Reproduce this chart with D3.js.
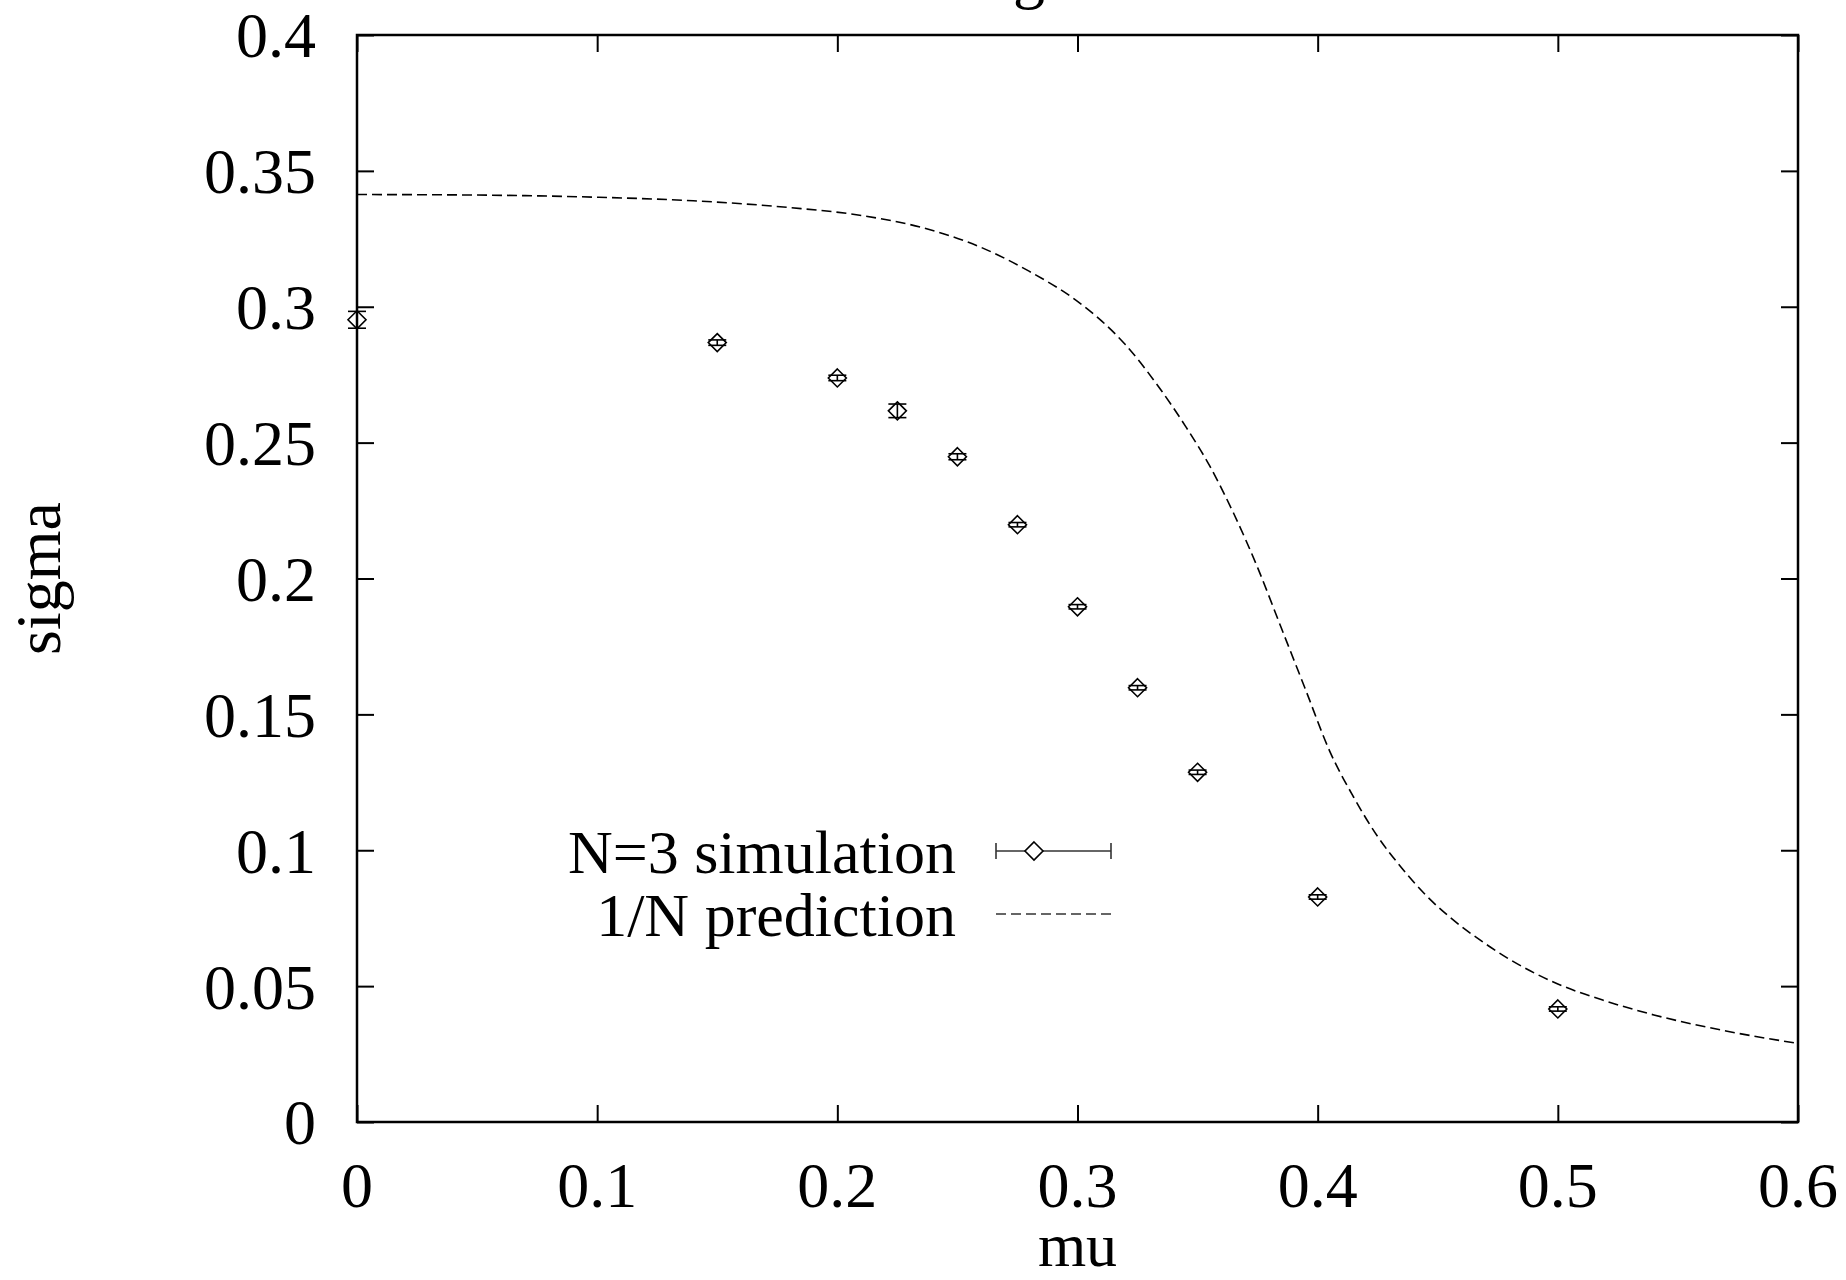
<!DOCTYPE html>
<html>
<head>
<meta charset="utf-8">
<script src="https://cdn.jsdelivr.net/npm/d3@7"></script>
<style>
  html, body { margin: 0; padding: 0; background: #fff; }
  svg { display: block; }
  text { font-family: "Liberation Serif", "Times New Roman", serif; fill: #000; }
</style>
</head>
<body>
<svg id="chart" width="1846" height="1280"></svg>
<script>
// ---- data ----
const muSim    = [0, 0.15, 0.2, 0.225, 0.25, 0.275, 0.3, 0.325, 0.35, 0.4, 0.5];
const sigmaSim = [0.2952, 0.2868, 0.2738, 0.2617, 0.2448, 0.2198, 0.1896, 0.1598, 0.1287, 0.0828, 0.0416];
const errSim   = [0.0031, 0.0010, 0.0010, 0.0025, 0.0011, 0.0008, 0.0008, 0.0008, 0.0008, 0.0008, 0.0008];

const muCurve    = [0, 0.05, 0.1, 0.14, 0.18, 0.21, 0.235, 0.26, 0.28, 0.3, 0.31, 0.32, 0.333, 0.345, 0.355, 0.365, 0.375, 0.385, 0.395, 0.405, 0.415, 0.425, 0.435, 0.445, 0.455, 0.47, 0.48, 0.5, 0.52, 0.54, 0.57, 0.6];
const sigmaCurve = [0.3413, 0.3411, 0.3403, 0.3390, 0.3365, 0.3336, 0.3292, 0.3218, 0.3130, 0.3020, 0.2948, 0.2860, 0.2715, 0.2560, 0.2415, 0.2240, 0.2040, 0.1815, 0.1590, 0.1365, 0.1195, 0.1050, 0.0935, 0.0835, 0.0754, 0.0655, 0.0598, 0.0508, 0.0445, 0.0394, 0.0335, 0.0289];

const xTicks = [0, 0.1, 0.2, 0.3, 0.4, 0.5, 0.6];
const yTicks = [0, 0.05, 0.1, 0.15, 0.2, 0.25, 0.3, 0.35, 0.4];
const xTickLabels = ["0", "0.1", "0.2", "0.3", "0.4", "0.5", "0.6"];
const yTickLabels = ["0", "0.05", "0.1", "0.15", "0.2", "0.25", "0.3", "0.35", "0.4"];
const legendLabels = ["N=3 simulation", "1/N prediction"];
const titleVisible = "g";
const xLabel = "mu";
const yLabel = "sigma";

// ---- layout ----
const L = 357, R = 1798, T = 35, B = 1122;
const FS = 64, FSL = 62;
const svg = d3.select("#chart");

const x = d3.scaleLinear().domain([0, 0.6]).range([L, R]);
const y = d3.scaleLinear().domain([0, 0.4]).range([B, T]);

// title (cut off at top)
svg.append("text").attr("x", 1029).attr("y", -4).attr("text-anchor", "middle")
  .attr("font-size", FS).text(titleVisible);

// ticks (inward, on all four sides) via axes
const tickLen = 17;
const axB = svg.append("g").attr("transform", `translate(0,${B})`)
  .call(d3.axisTop(x).tickValues(xTicks).tickSize(tickLen).tickFormat(""));
const axT = svg.append("g").attr("transform", `translate(0,${T})`)
  .call(d3.axisBottom(x).tickValues(xTicks).tickSize(tickLen).tickFormat(""));
const axL = svg.append("g").attr("transform", `translate(${L},0)`)
  .call(d3.axisRight(y).tickValues(yTicks).tickSize(tickLen).tickFormat(""));
const axR = svg.append("g").attr("transform", `translate(${R},0)`)
  .call(d3.axisLeft(y).tickValues(yTicks).tickSize(tickLen).tickFormat(""));
[axB, axT, axL, axR].forEach(g => {
  g.select(".domain").remove();
  g.selectAll(".tick line").attr("stroke", "#000").attr("stroke-width", 2);
});

// tick labels
svg.append("g").selectAll("text").data(xTicks).join("text")
  .attr("x", d => x(d)).attr("y", 1207).attr("text-anchor", "middle")
  .attr("font-size", FS).text((d, i) => xTickLabels[i]);
svg.append("g").selectAll("text").data(yTicks).join("text")
  .attr("x", 316).attr("y", d => y(d)).attr("dy", "0.35em").attr("text-anchor", "end")
  .attr("font-size", FS).text((d, i) => yTickLabels[i]);

// axis labels
svg.append("text").attr("x", (L + R) / 2).attr("y", 1266).attr("text-anchor", "middle")
  .attr("font-size", FSL).text(xLabel);
svg.append("text").attr("transform", `translate(60,${(T + B) / 2}) rotate(-90)`)
  .attr("text-anchor", "middle").attr("font-size", FS).text(yLabel);

// clip
svg.append("clipPath").attr("id", "clip").append("rect")
  .attr("x", L).attr("y", T).attr("width", R - L).attr("height", B - T);

// dashed prediction curve
const curvePts = muCurve.map((m, i) => [m, sigmaCurve[i]]);
const line = d3.line().x(d => x(d[0])).y(d => y(d[1])).curve(d3.curveMonotoneX);
svg.append("path").attr("clip-path", "url(#clip)").attr("d", line(curvePts))
  .attr("fill", "none").attr("stroke", "#000").attr("stroke-width", 1.6)
  .attr("stroke-dasharray", "10,5");

// simulation points with error bars
const simPts = muSim.map((m, i) => ({ m, s: sigmaSim[i], e: errSim[i] }));
const capW = 9, dia = 9;
const gp = svg.append("g").attr("stroke", "#000").attr("stroke-width", 1.6).attr("fill", "none");
gp.selectAll("line.v").data(simPts).join("line").attr("class", "v")
  .attr("x1", d => x(d.m)).attr("x2", d => x(d.m))
  .attr("y1", d => y(d.s - d.e)).attr("y2", d => y(d.s + d.e));
gp.selectAll("line.ct").data(simPts).join("line").attr("class", "ct")
  .attr("x1", d => x(d.m) - capW).attr("x2", d => x(d.m) + capW)
  .attr("y1", d => y(d.s + d.e)).attr("y2", d => y(d.s + d.e));
gp.selectAll("line.cb").data(simPts).join("line").attr("class", "cb")
  .attr("x1", d => x(d.m) - capW).attr("x2", d => x(d.m) + capW)
  .attr("y1", d => y(d.s - d.e)).attr("y2", d => y(d.s - d.e));
const diamond = (cx, cy) => `M${cx},${cy - dia}L${cx + dia},${cy}L${cx},${cy + dia}L${cx - dia},${cy}Z`;
gp.selectAll("path.d").data(simPts).join("path").attr("class", "d")
  .attr("d", d => diamond(x(d.m), y(d.s)));

// frame
svg.append("rect").attr("x", L).attr("y", T).attr("width", R - L).attr("height", B - T)
  .attr("fill", "none").attr("stroke", "#000").attr("stroke-width", 2.5);

// legend
const lgX0 = 996, lgX1 = 1111, lgTextX = 956;
const lgY = [851, 914];
svg.append("text").attr("x", lgTextX).attr("y", lgY[0]).attr("dy", "0.35em")
  .attr("text-anchor", "end").attr("font-size", FSL).text(legendLabels[0]);
svg.append("text").attr("x", lgTextX).attr("y", lgY[1]).attr("dy", "0.35em")
  .attr("text-anchor", "end").attr("font-size", FSL).text(legendLabels[1]);
const lg = svg.append("g").attr("stroke", "#333").attr("stroke-width", 1.6).attr("fill", "none");
lg.append("line").attr("x1", lgX0).attr("x2", lgX1).attr("y1", lgY[0]).attr("y2", lgY[0]);
lg.append("line").attr("x1", lgX0).attr("x2", lgX0).attr("y1", lgY[0] - 8).attr("y2", lgY[0] + 8);
lg.append("line").attr("x1", lgX1).attr("x2", lgX1).attr("y1", lgY[0] - 8).attr("y2", lgY[0] + 8);
lg.append("path").attr("d", diamond(1034, lgY[0])).attr("fill", "#fff").attr("stroke", "#000");
lg.append("line").attr("x1", lgX0).attr("x2", lgX1).attr("y1", lgY[1]).attr("y2", lgY[1])
  .attr("stroke-dasharray", "10,5");
</script>
</body>
</html>
